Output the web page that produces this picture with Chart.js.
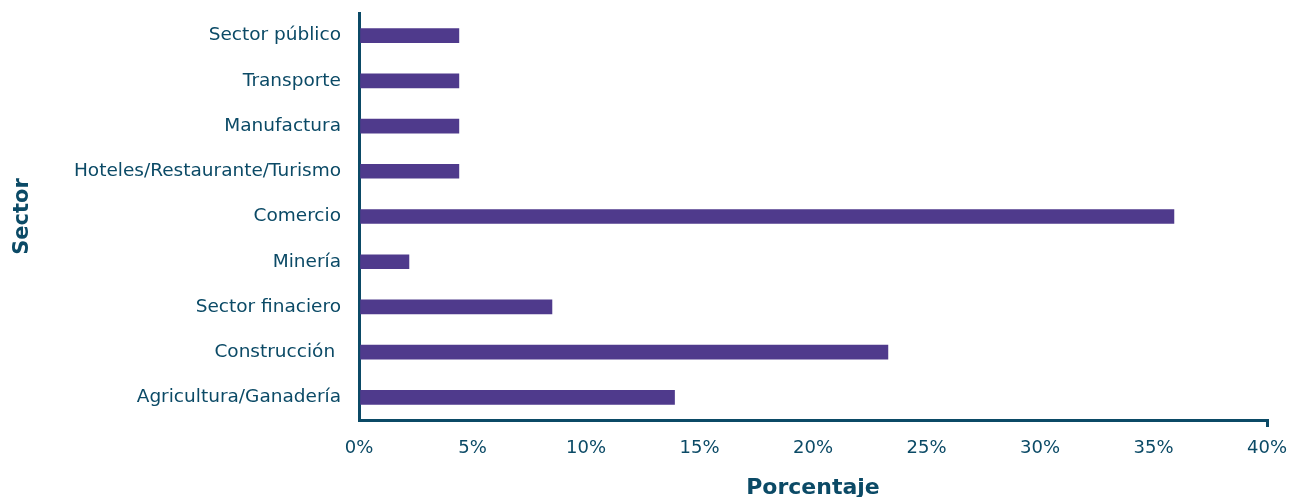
<!DOCTYPE html>
<html>
<head>
<meta charset="utf-8">
<script src="https://cdn.jsdelivr.net/npm/chart.js@4"></script>
<style>
  html, body { margin: 0; padding: 0; background: #fff; overflow: hidden; }
  #wrap { width: 1290px; height: 501px; }
</style>
</head>
<body>
<div id="wrap"><canvas id="myChart" width="1290" height="501"></canvas></div>
<script>
var sectores = ['Sector público', 'Transporte', 'Manufactura', 'Hoteles/Restaurante/Turismo', 'Comercio', 'Minería', 'Sector finaciero', 'Construcción ', 'Agricultura/Ganadería'];
var porcentajes = [4.4, 4.4, 4.4, 4.4, 35.9, 2.2, 8.5, 23.3, 13.9];
var ticksX = [0, 5, 10, 15, 20, 25, 30, 35, 40];

var azul = '#0b4a66';
var morado = '#4f3a8c';
var fuente = "'DejaVu Sans', sans-serif";

var ctx = document.getElementById('myChart').getContext('2d');

var myChart = new Chart(ctx, {
  type: 'bar',
  data: {
    labels: sectores,
    datasets: [{
      label: 'Porcentaje',
      data: porcentajes,
      backgroundColor: morado,
      borderWidth: 0,
      barThickness: 14
    }]
  },
  options: {
    indexAxis: 'y',
    responsive: false,
    animation: false,
    layout: { padding: { top: 13, right: 23, left: 10, bottom: 0 } },
    plugins: {
      legend: { display: false },
      tooltip: { enabled: false }
    },
    scales: {
      x: {
        min: 0,
        max: 40,
        afterBuildTicks: function(scale) {
          scale.ticks = ticksX.map(function(v) { return { value: v }; });
        },
        afterFit: function(scale) {
          scale.height = 81;
          scale.paddingLeft = 0;
          scale.paddingRight = 0;
        },
        border: { display: true, color: azul, width: 3 },
        grid: {
          drawOnChartArea: false,
          drawTicks: true,
          tickLength: 7,
          lineWidth: 3,
          color: function(c) { return c.index === ticksX.length - 1 ? azul : 'rgba(0,0,0,0)'; }
        },
        ticks: {
          color: azul,
          padding: 11,
          font: { family: fuente, size: 18 },
          callback: function(v) { return v + '%'; }
        },
        title: {
          display: true,
          text: 'Porcentaje',
          color: azul,
          padding: { top: 0, bottom: 0 },
          font: { family: fuente, size: 22, weight: 'bold' }
        }
      },
      y: {
        afterFit: function(scale) {
          scale.width = 349;
          scale.paddingTop = 0;
          scale.paddingBottom = 0;
        },
        border: { display: true, color: azul, width: 3 },
        grid: { display: false, drawTicks: false },
        ticks: {
          color: azul,
          padding: 18,
          font: { family: fuente, size: 18.5 }
        },
        title: {
          display: true,
          text: 'Sector',
          color: azul,
          padding: { top: 0, bottom: 20 },
          font: { family: fuente, size: 21, weight: 'bold' }
        }
      }
    }
  }
});
</script>
</body>
</html>
